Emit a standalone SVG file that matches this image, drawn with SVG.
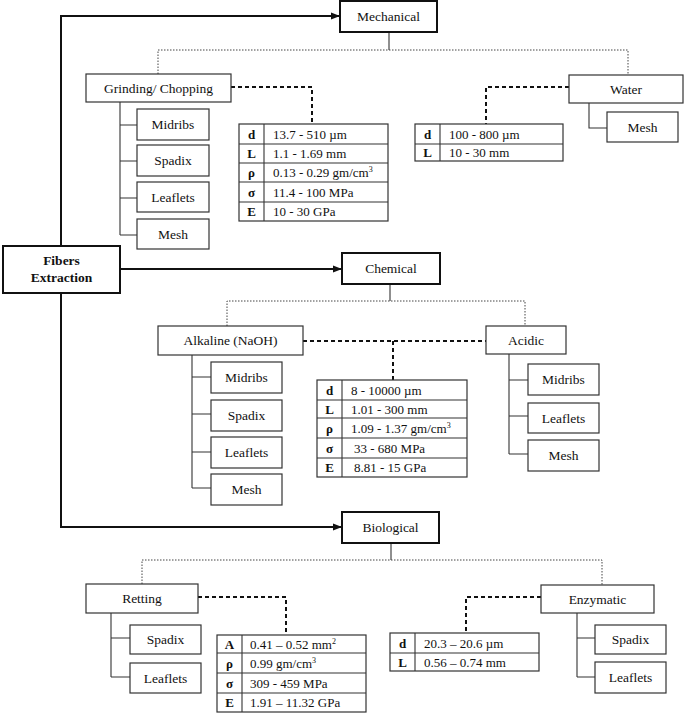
<svg xmlns="http://www.w3.org/2000/svg" width="685" height="714" viewBox="0 0 685 714">
<style>
text{font-family:"Liberation Serif","Tinos","Times New Roman","DejaVu Serif",serif;font-size:13.5px;fill:#111}
.c{text-anchor:middle}
.b{font-weight:bold}
.t{font-size:13px}
.main{fill:#fff;stroke:#111;stroke-width:2}
.cat{fill:#fff;stroke:#111;stroke-width:2}
.box{fill:#fff;stroke:#333;stroke-width:1.2}
.tb{fill:#fff;stroke:#333;stroke-width:1.2}
.tl{stroke:#333;stroke-width:1.1;fill:none}
.solid{stroke:#111;stroke-width:2;fill:none}
.thin{stroke:#333;stroke-width:1.1;fill:none}
.dot{stroke:#444;stroke-width:1;stroke-dasharray:1.5,1.5;fill:none}
.dash{stroke:#111;stroke-width:2;stroke-dasharray:4,3;fill:none}
</style>
<defs>
<marker id="ah" markerWidth="10" markerHeight="8" refX="9" refY="4" orient="auto" markerUnits="userSpaceOnUse">
<path d="M0,0.5 L9,4 L0,7.5 Z" fill="#111"/>
</marker>
</defs>
<g id="connectors">
<path class="solid" d="M61,246 V16 H340" marker-end="url(#ah)"/>
<path class="solid" d="M120,269 H342" marker-end="url(#ah)"/>
<path class="solid" d="M61,293 V527 H342" marker-end="url(#ah)"/>
<path class="thin" d="M389,32 V50"/>
<path class="dot" d="M158,74 V50 H628 V75"/>
<path class="dash" d="M231,87 H312 V124"/>
<path class="dash" d="M569,87 H486 V124"/>
<path class="thin" d="M120,102 V235 M120,125 H137 M120,161 H137 M120,198 H137 M120,235 H137"/>
<path class="thin" d="M589,103 V128 H607"/>
<path class="thin" d="M390,284 V301"/>
<path class="dot" d="M227,326 V301 H525 V326"/>
<path class="dash" d="M303,341 H486 M393,341 V380"/>
<path class="thin" d="M192,355 V488 M192,377 H211 M192,414 H211 M192,452 H211 M192,488 H211"/>
<path class="thin" d="M509,354 V454 M509,380 H528 M509,416 H528 M509,454 H528"/>
<path class="thin" d="M391,543 V560"/>
<path class="dot" d="M142,584 V560 H602 V585"/>
<path class="dash" d="M198,597 H286 V635"/>
<path class="dash" d="M541,597 H466 V633"/>
<path class="thin" d="M111,613 V677 M111,638 H130 M111,677 H130"/>
<path class="thin" d="M577,613 V677 M577,638 H595 M577,677 H595"/>
</g>
<g id="fibers-extraction">
<rect class="main" x="3" y="246" width="117" height="47" stroke-width="2.5"/>
<text class="c b" x="61.5" y="265">Fibers</text>
<text class="c b" x="61.5" y="282">Extraction</text>
</g>
<g id="mechanical">
<rect class="cat" x="340" y="1" width="97" height="31"/>
<text class="c" x="388.5" y="21">Mechanical</text>
</g>
<g id="grinding">
<rect class="box" x="86" y="74" width="145" height="28"/>
<text class="c" x="158.5" y="92.5">Grinding/ Chopping</text>
</g>
<g id="gc-midribs"><rect class="box" x="137" y="109" width="72" height="31"/><text class="c" x="173" y="129">Midribs</text></g>
<g id="gc-spadix"><rect class="box" x="137" y="145" width="72" height="31"/><text class="c" x="173" y="165">Spadix</text></g>
<g id="gc-leaflets"><rect class="box" x="137" y="182" width="72" height="30"/><text class="c" x="173" y="201.5">Leaflets</text></g>
<g id="gc-mesh"><rect class="box" x="137" y="219" width="72" height="30"/><text class="c" x="173" y="238.5">Mesh</text></g>
<g id="table-grinding">
<rect class="tb" x="239" y="124" width="149" height="97"/>
<path class="tl" d="M264,124 V221 M239,144 H388 M239,163 H388 M239,182 H388 M239,202 H388"/>
<text class="c b t" x="251.5" y="138.5">d</text><text class="t" x="273" y="138.5">13.7 - 510 µm</text>
<text class="c b t" x="251.5" y="158">L</text><text class="t" x="273" y="158">1.1 - 1.69 mm</text>
<text class="c b t" x="251.5" y="177">ρ</text><text class="t" x="273" y="177">0.13 - 0.29 gm/cm<tspan font-size="8" dy="-5">3</tspan></text>
<text class="c b t" x="251.5" y="196.5">σ</text><text class="t" x="273" y="196.5">11.4 - 100 MPa</text>
<text class="c b t" x="251.5" y="216">E</text><text class="t" x="273" y="216">10 - 30 GPa</text>
</g>
<g id="water">
<rect class="box" x="569" y="75" width="114" height="28"/>
<text class="c" x="626" y="93.5">Water</text>
</g>
<g id="w-mesh"><rect class="box" x="607" y="112" width="71" height="30"/><text class="c" x="642.5" y="131.5">Mesh</text></g>
<g id="table-water">
<rect class="tb" x="415" y="124" width="148" height="37"/>
<path class="tl" d="M440,124 V161 M415,144 H563"/>
<text class="c b t" x="427.5" y="138.5">d</text><text class="t" x="449" y="138.5">100 - 800 µm</text>
<text class="c b t" x="427.5" y="157">L</text><text class="t" x="449" y="157">10 - 30 mm</text>
</g>
<g id="chemical">
<rect class="cat" x="342" y="253" width="98" height="31"/>
<text class="c" x="391" y="273">Chemical</text>
</g>
<g id="alkaline">
<rect class="box" x="158" y="326" width="145" height="29"/>
<text class="c" x="230.5" y="345">Alkaline (NaOH)</text>
</g>
<g id="al-midribs"><rect class="box" x="211" y="362" width="71" height="31"/><text class="c" x="246.5" y="382">Midribs</text></g>
<g id="al-spadix"><rect class="box" x="211" y="400" width="71" height="31"/><text class="c" x="246.5" y="420">Spadix</text></g>
<g id="al-leaflets"><rect class="box" x="211" y="437" width="71" height="31"/><text class="c" x="246.5" y="457">Leaflets</text></g>
<g id="al-mesh"><rect class="box" x="211" y="474" width="71" height="31"/><text class="c" x="246.5" y="494">Mesh</text></g>
<g id="table-chemical">
<rect class="tb" x="317" y="380" width="150" height="97"/>
<path class="tl" d="M342,380 V477 M317,400 H467 M317,418 H467 M317,438 H467 M317,458 H467"/>
<text class="c b t" x="329.5" y="394.5">d</text><text class="t" x="351" y="394.5">8 - 10000 µm</text>
<text class="c b t" x="329.5" y="413.5">L</text><text class="t" x="351" y="413.5">1.01 - 300 mm</text>
<text class="c b t" x="329.5" y="432.5">ρ</text><text class="t" x="351" y="432.5">1.09 - 1.37 gm/cm<tspan font-size="8" dy="-5">3</tspan></text>
<text class="c b t" x="329.5" y="452.5">σ</text><text class="t" x="354" y="452.5">33 - 680 MPa</text>
<text class="c b t" x="329.5" y="472">E</text><text class="t" x="354" y="472">8.81 - 15 GPa</text>
</g>
<g id="acidic">
<rect class="box" x="486" y="326" width="80" height="28"/>
<text class="c" x="526" y="344.5">Acidic</text>
</g>
<g id="ac-midribs"><rect class="box" x="528" y="364" width="71" height="31"/><text class="c" x="563.5" y="384">Midribs</text></g>
<g id="ac-leaflets"><rect class="box" x="528" y="403" width="71" height="30"/><text class="c" x="563.5" y="422.5">Leaflets</text></g>
<g id="ac-mesh"><rect class="box" x="528" y="440" width="71" height="31"/><text class="c" x="563.5" y="460">Mesh</text></g>
<g id="biological">
<rect class="cat" x="342" y="512" width="97" height="31"/>
<text class="c" x="390.5" y="532">Biological</text>
</g>
<g id="retting">
<rect class="box" x="86" y="584" width="112" height="29"/>
<text class="c" x="142" y="603">Retting</text>
</g>
<g id="re-spadix"><rect class="box" x="130" y="625" width="71" height="29"/><text class="c" x="165.5" y="644">Spadix</text></g>
<g id="re-leaflets"><rect class="box" x="130" y="663" width="71" height="30"/><text class="c" x="165.5" y="682.5">Leaflets</text></g>
<g id="table-retting">
<rect class="tb" x="217" y="635" width="149" height="77"/>
<path class="tl" d="M242,635 V712 M217,653 H366 M217,673 H366 M217,693 H366"/>
<text class="c b t" x="229.5" y="648.5">A</text><text class="t" x="250" y="648.5">0.41 – 0.52 mm<tspan font-size="8" dy="-5">2</tspan></text>
<text class="c b t" x="229.5" y="667.5">ρ</text><text class="t" x="250" y="667.5">0.99 gm/cm<tspan font-size="8" dy="-5">3</tspan></text>
<text class="c b t" x="229.5" y="687.5">σ</text><text class="t" x="250" y="687.5">309 - 459 MPa</text>
<text class="c b t" x="229.5" y="707">E</text><text class="t" x="250" y="707">1.91 – 11.32 GPa</text>
</g>
<g id="enzymatic">
<rect class="box" x="541" y="585" width="113" height="28"/>
<text class="c" x="597.5" y="603.5">Enzymatic</text>
</g>
<g id="en-spadix"><rect class="box" x="595" y="625" width="71" height="29"/><text class="c" x="630.5" y="644">Spadix</text></g>
<g id="en-leaflets"><rect class="box" x="595" y="662" width="71" height="31"/><text class="c" x="630.5" y="682">Leaflets</text></g>
<g id="table-enzymatic">
<rect class="tb" x="390" y="633" width="149" height="38"/>
<path class="tl" d="M415,633 V671 M390,653 H539"/>
<text class="c b t" x="402.5" y="647.5">d</text><text class="t" x="424" y="647.5">20.3 – 20.6 µm</text>
<text class="c b t" x="402.5" y="666.5">L</text><text class="t" x="424" y="666.5">0.56 – 0.74 mm</text>
</g>
</svg>
